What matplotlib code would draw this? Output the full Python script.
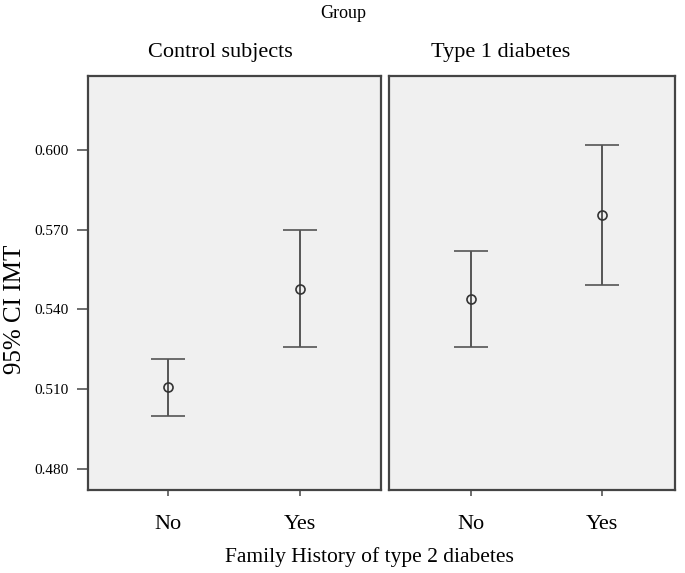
import matplotlib.pyplot as plt

plt.rcParams["font.family"] = ["Liberation Serif", "DejaVu Serif"]

groups = ["Control subjects", "Type 1 diabetes"]
categories = ["No", "Yes"]
# mean, lower and upper 95% CI of IMT per group, per family history
means = [[0.5106, 0.5478], [0.5438, 0.5754]]
lower = [[0.5000, 0.5257], [0.5257, 0.5491]]
upper = [[0.5214, 0.5700], [0.5618, 0.6020]]
yticks = [0.480, 0.510, 0.540, 0.570, 0.600]

fig = plt.figure(figsize=(6.85, 5.73), dpi=100)
fig.patch.set_facecolor("white")

boxes = [(0.1285, 0.1449, 0.4277, 0.7225), (0.5675, 0.1449, 0.418, 0.7225)]
xlims = [(0.398, 2.612), (0.375, 2.556)]
title_x = [0.321, 0.731]

for i, g in enumerate(groups):
	ax = fig.add_axes(boxes[i])
	ax.set_facecolor("#f0f0f0")
	x = [1, 2]
	m = means[i]
	err = [[m[j] - lower[i][j] for j in range(2)], [upper[i][j] - m[j] for j in range(2)]]
	ax.errorbar(x, m, yerr=err, fmt="o", mfc="none", mec="#333333", ms=6.5, mew=1.2,
		ecolor="#555555", elinewidth=1.4, capsize=12, capthick=1.4)
	ax.set_xlim(*xlims[i])
	ax.set_ylim(0.4720, 0.6278)
	ax.set_xticks(x)
	ax.set_xticklabels(categories, fontsize=16)
	ax.tick_params(axis="x", length=4, width=1.2, color="#555555", pad=14)
	if i == 0:
		ax.set_yticks(yticks)
		ax.set_yticklabels([f"{v:.3f}" for v in yticks], fontsize=11)
		ax.tick_params(axis="y", length=8, width=1.2, color="#555555", pad=6)
	else:
		ax.set_yticks([])
	for s in ax.spines.values():
		s.set_color("#444444")
		s.set_linewidth(1.6)
	fig.text(title_x[i], 0.908, g, ha="center", va="center", fontsize=16)

fig.text(0.501, 0.977, "Group", ha="center", va="center", fontsize=13)
fig.text(0.54, 0.028, "Family History of type 2 diabetes", ha="center", va="center", fontsize=15.5)
fig.text(0.022, 0.46, "95% CI IMT", rotation=90, ha="center", va="center", fontsize=18)

fig.savefig("out.png", dpi=100)
